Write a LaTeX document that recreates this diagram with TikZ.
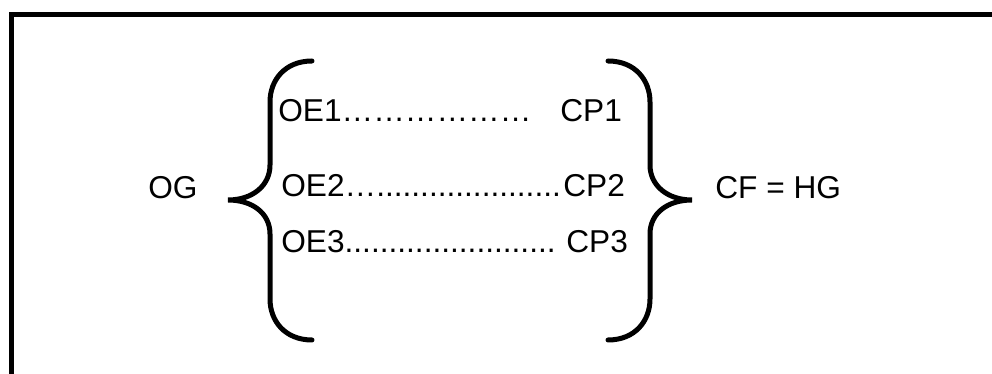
\documentclass[tikz,border=0pt]{standalone}
\usepackage{fontspec}
\setmainfont{Liberation Sans}
\tikzset{
  lbl/.style={font=\fontsize{18}{22}\selectfont, inner sep=0pt, anchor=base west},
  bracestyle/.style={line width=0.1cm, line cap=round}
}

\begin{document}
\begin{tikzpicture}[x=0.02cm, y=-0.02cm]
			%%%%% FRAME %%%%%
			\useasboundingbox (0, 0) rectangle (992, 374);
			\clip (0, 0) rectangle (992, 374);
			\draw[line width=0.1cm] (11.5, 420) -- (11.5, 14.5) -- (1020, 14.5);
			
			%%%%% BRACES %%%%%
			\draw[bracestyle] (312, 61) .. controls (285, 61) and (270, 80) .. (270, 102)
				-- (270, 165) .. controls (270, 186) and (252, 200) .. (228, 200)
				.. controls (252, 200) and (270, 213) .. (270, 234)
				-- (270, 299) .. controls (270, 321) and (285, 340) .. (312, 340);
			\draw[bracestyle] (608, 61) .. controls (635, 61) and (650, 80) .. (650, 102)
				-- (650, 165) .. controls (650, 186) and (668, 200) .. (692, 200)
				.. controls (668, 200) and (650, 213) .. (650, 234)
				-- (650, 299) .. controls (650, 321) and (635, 340) .. (608, 340);
			
			%%%%% TEXT %%%%%
			\node[lbl] (og) at (148, 199) {OG};
			\node[lbl] (oe1) at (278, 122) {OE1………………};
			\node[lbl] (cp1) at (560, 122) {CP1};
			\node[lbl] (oe2) at (281, 197) {OE2….....................};
			\node[lbl] (cp2) at (563, 197) {CP2};
			\node[lbl] (oe3) at (281, 253) {OE3........................};
			\node[lbl] (cp3) at (566, 253) {CP3};
			\node[lbl] (cf) at (715, 199) {CF = HG};
\end{tikzpicture}
\end{document}
